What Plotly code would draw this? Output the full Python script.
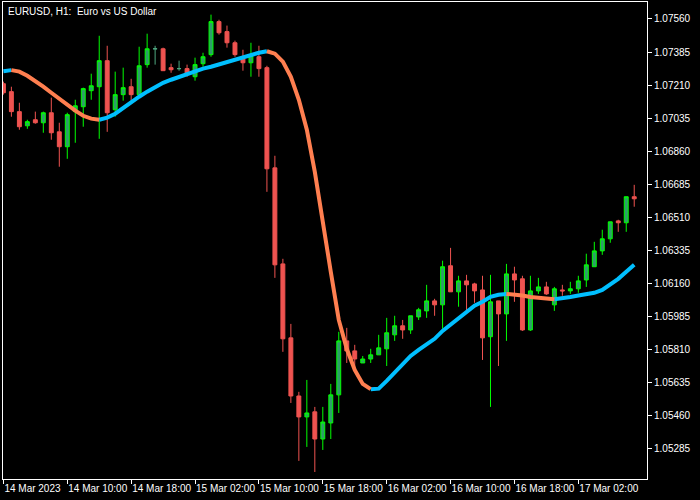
import pandas as pd
import plotly.graph_objects as go

# ---------------- data ----------------
symbol_title = "EURUSD, H1:  Euro vs US Dollar"
bar_times = pd.date_range("2023-03-14 02:00", periods=80, freq="h")

opens = [1.07217, 1.07175, 1.07069, 1.06994, 1.07026, 1.07010, 1.07063, 1.06962, 1.06883, 1.07069,
         1.07095, 1.07180, 1.07201, 1.07339, 1.07079, 1.07159, 1.07201, 1.07159, 1.07318, 1.07402,
         1.07402, 1.07302, 1.07297, 1.07297, 1.07254, 1.07323, 1.07371, 1.07546, 1.07493, 1.07434,
         1.07350, 1.07328, 1.07360, 1.07302, 1.06771, 1.06262, 1.05870, 1.05562, 1.05451, 1.05478,
         1.05334, 1.05419, 1.05568, 1.05854, 1.05801, 1.05737, 1.05758, 1.05780, 1.05812, 1.05886,
         1.05934, 1.05912, 1.05981, 1.06013, 1.06066, 1.06045, 1.06252, 1.06114, 1.06172, 1.06156,
         1.06124, 1.05876, 1.06066, 1.05997, 1.06209, 1.06183, 1.05912, 1.06119, 1.06140, 1.06045,
         1.06124, 1.06119, 1.06130, 1.06177, 1.06247, 1.06331, 1.06395, 1.06490, 1.06480, 1.06618]
highs = [1.07228, 1.07201, 1.07116, 1.07026, 1.07069, 1.07069, 1.07143, 1.07010, 1.07063, 1.07132,
         1.07196, 1.07270, 1.07471, 1.07418, 1.07281, 1.07302, 1.07243, 1.07413, 1.07482, 1.07418,
         1.07408, 1.07323, 1.07339, 1.07318, 1.07355, 1.07381, 1.07583, 1.07556, 1.07525, 1.07445,
         1.07397, 1.07434, 1.07418, 1.07312, 1.06835, 1.06289, 1.05944, 1.05584, 1.05647, 1.05504,
         1.05504, 1.05626, 1.05902, 1.05923, 1.05833, 1.05774, 1.05812, 1.05886, 1.05976, 1.05987,
         1.05965, 1.05987, 1.06029, 1.06151, 1.06077, 1.06279, 1.06347, 1.06199, 1.06204, 1.06162,
         1.06199, 1.06204, 1.06066, 1.06262, 1.06247, 1.06199, 1.06199, 1.06188, 1.06167, 1.06140,
         1.06151, 1.06167, 1.06199, 1.06316, 1.06379, 1.06443, 1.06485, 1.06496, 1.06618, 1.06681]
lows = [1.07159, 1.07042, 1.06973, 1.06978, 1.07005, 1.06957, 1.06920, 1.06777, 1.06819, 1.06904,
        1.06989, 1.07132, 1.06925, 1.06962, 1.07042, 1.07127, 1.07127, 1.07148, 1.07302, 1.07318,
        1.07286, 1.07275, 1.07286, 1.07254, 1.07233, 1.07307, 1.07360, 1.07477, 1.07408, 1.07360,
        1.07286, 1.07254, 1.07254, 1.06644, 1.06188, 1.05796, 1.05525, 1.05218, 1.05292, 1.05159,
        1.05276, 1.05334, 1.05472, 1.05737, 1.05716, 1.05737, 1.05737, 1.05780, 1.05721, 1.05854,
        1.05865, 1.05891, 1.05965, 1.05976, 1.05987, 1.05918, 1.06114, 1.06035, 1.06013, 1.06056,
        1.05753, 1.05504, 1.05721, 1.05854, 1.06061, 1.05907, 1.05907, 1.06103, 1.06098, 1.06013,
        1.06093, 1.06103, 1.06109, 1.06140, 1.06247, 1.06310, 1.06374, 1.06432, 1.06432, 1.06565]
closes = [1.07169, 1.07069, 1.06989, 1.07016, 1.07010, 1.07063, 1.06957, 1.06883, 1.07053, 1.07100,
          1.07191, 1.07206, 1.07339, 1.07063, 1.07159, 1.07196, 1.07159, 1.07312, 1.07402, 1.07402,
          1.07286, 1.07291, 1.07297, 1.07270, 1.07318, 1.07360, 1.07546, 1.07487, 1.07434, 1.07371,
          1.07328, 1.07365, 1.07297, 1.06766, 1.06257, 1.05865, 1.05562, 1.05451, 1.05472, 1.05334,
          1.05424, 1.05568, 1.05854, 1.05801, 1.05758, 1.05758, 1.05780, 1.05817, 1.05897, 1.05934,
          1.05912, 1.05987, 1.06019, 1.06066, 1.06045, 1.06247, 1.06114, 1.06172, 1.06151, 1.06119,
          1.05870, 1.06061, 1.05997, 1.06209, 1.06177, 1.05912, 1.06119, 1.06140, 1.06103, 1.06130,
          1.06119, 1.06130, 1.06172, 1.06257, 1.06331, 1.06395, 1.06485, 1.06480, 1.06618, 1.06607]
ma_values = [1.07283, 1.07289, 1.07281, 1.07259, 1.07233, 1.07201, 1.07169, 1.07137, 1.07100, 1.07074,
             1.07047, 1.07032, 1.07026, 1.07037, 1.07058, 1.07090, 1.07122, 1.07148, 1.07175, 1.07201,
             1.07222, 1.07238, 1.07254, 1.07270, 1.07286, 1.07297, 1.07307, 1.07320, 1.07334, 1.07347,
             1.07360, 1.07371, 1.07381, 1.07389, 1.07376, 1.07334, 1.07254, 1.07132, 1.06973, 1.06750,
             1.06475, 1.06220, 1.05965, 1.05812, 1.05700, 1.05626, 1.05598, 1.05601, 1.05642, 1.05684,
             1.05732, 1.05774, 1.05806, 1.05833, 1.05865, 1.05907, 1.05939, 1.05971, 1.06008, 1.06040,
             1.06061, 1.06087, 1.06098, 1.06103, 1.06101, 1.06095, 1.06087, 1.06082, 1.06077, 1.06075,
             1.06079, 1.06087, 1.06095, 1.06101, 1.06109, 1.06124, 1.06151, 1.06183, 1.06220, 1.06257]

x_tick_times = ["2023-03-14 02:00", "2023-03-14 10:00", "2023-03-14 18:00", "2023-03-15 02:00",
                "2023-03-15 10:00", "2023-03-15 18:00", "2023-03-16 02:00", "2023-03-16 10:00",
                "2023-03-16 18:00", "2023-03-17 02:00"]
x_tick_labels = ["14 Mar 2023", "14 Mar 10:00", "14 Mar 18:00", "15 Mar 02:00", "15 Mar 10:00",
                 "15 Mar 18:00", "16 Mar 02:00", "16 Mar 10:00", "16 Mar 18:00", "17 Mar 02:00"]
y_tick_values = [1.05285, 1.05460, 1.05635, 1.05810, 1.05985, 1.06160, 1.06335,
                 1.06510, 1.06685, 1.06860, 1.07035, 1.07210, 1.07385, 1.07560]

# ---------------- styles ----------------
BULL_LINE = "#00FF00"
BULL_FILL = "#2E9E6A"
BEAR = "#EF5350"
DOJI = "#4FA880"
MA_UP = "#00BFFF"
MA_DN = "#FF7F50"
FONT = "Liberation Sans, Arial, sans-serif"

doji_idx = [i for i in range(len(opens)) if opens[i] == closes[i]]
reg_idx = [i for i in range(len(opens)) if opens[i] != closes[i]]

def pick(arr, idx):
    return [arr[i] for i in idx]

fig = go.Figure()
fig.add_trace(go.Candlestick(
    x=pick(bar_times, reg_idx), open=pick(opens, reg_idx), high=pick(highs, reg_idx),
    low=pick(lows, reg_idx), close=pick(closes, reg_idx),
    increasing=dict(line=dict(color=BULL_LINE, width=1), fillcolor=BULL_FILL),
    decreasing=dict(line=dict(color=BEAR, width=1), fillcolor=BEAR),
    whiskerwidth=0, hoverinfo="skip", showlegend=False))
fig.add_trace(go.Candlestick(
    x=pick(bar_times, doji_idx), open=pick(opens, doji_idx), high=pick(highs, doji_idx),
    low=pick(lows, doji_idx), close=pick(closes, doji_idx),
    increasing=dict(line=dict(color=DOJI, width=1), fillcolor=DOJI),
    decreasing=dict(line=dict(color=DOJI, width=1), fillcolor=DOJI),
    whiskerwidth=0, hoverinfo="skip", showlegend=False))

# moving average split into rising / falling runs
runs = {True: ([], []), False: ([], [])}
last_end = {True: None, False: None}
for i in range(1, len(ma_values)):
    up = ma_values[i] >= ma_values[i - 1]
    xs, ys = runs[up]
    if last_end[up] == i - 1:
        xs.append(bar_times[i]); ys.append(ma_values[i])
    else:
        if xs:
            xs.append(None); ys.append(None)
        xs.extend([bar_times[i - 1], bar_times[i]]); ys.extend([ma_values[i - 1], ma_values[i]])
    last_end[up] = i

for up, color in ((True, MA_UP), (False, MA_DN)):
    xs, ys = runs[up]
    fig.add_trace(go.Scatter(x=xs, y=ys, mode="lines",
                             line=dict(color=color, width=4),
                             connectgaps=False, hoverinfo="skip", showlegend=False))

fig.add_annotation(text=symbol_title, xref="paper", yref="paper", x=0, y=1,
                   xanchor="left", yanchor="top", xshift=3, yshift=-2, showarrow=False,
                   font=dict(family=FONT, size=10, color="white"))

fig.update_layout(
    width=700, height=500,
    paper_bgcolor="black", plot_bgcolor="black",
    margin=dict(l=3, r=53, t=2, b=21),
    showlegend=False,
    xaxis=dict(type="date", range=["2023-03-14 01:57", "2023-03-17 10:36"],
               rangeslider=dict(visible=False), automargin=False,
               tickvals=x_tick_times, ticktext=x_tick_labels, tickangle=0,
               ticks="outside", ticklen=4, tickcolor="white", tickwidth=1,
               ticklabelposition="outside right",
               showgrid=False, zeroline=False,
               showline=True, mirror=True, linecolor="white", linewidth=1,
               tickfont=dict(family=FONT, size=10, color="white")),
    yaxis=dict(range=[1.05122, 1.07650], side="right", automargin=False,
               tickvals=y_tick_values, ticktext=[f"{v:.5f}" for v in y_tick_values],
               ticks="outside", ticklen=4, tickcolor="white", tickwidth=1,
               showgrid=False, zeroline=False,
               showline=True, mirror=True, linecolor="white", linewidth=1,
               tickfont=dict(family=FONT, size=10, color="white")),
)

fig.write_html("out.html",
               config={"displayModeBar": False},
               post_script="document.body.style.margin='0';document.body.style.background='black';")
